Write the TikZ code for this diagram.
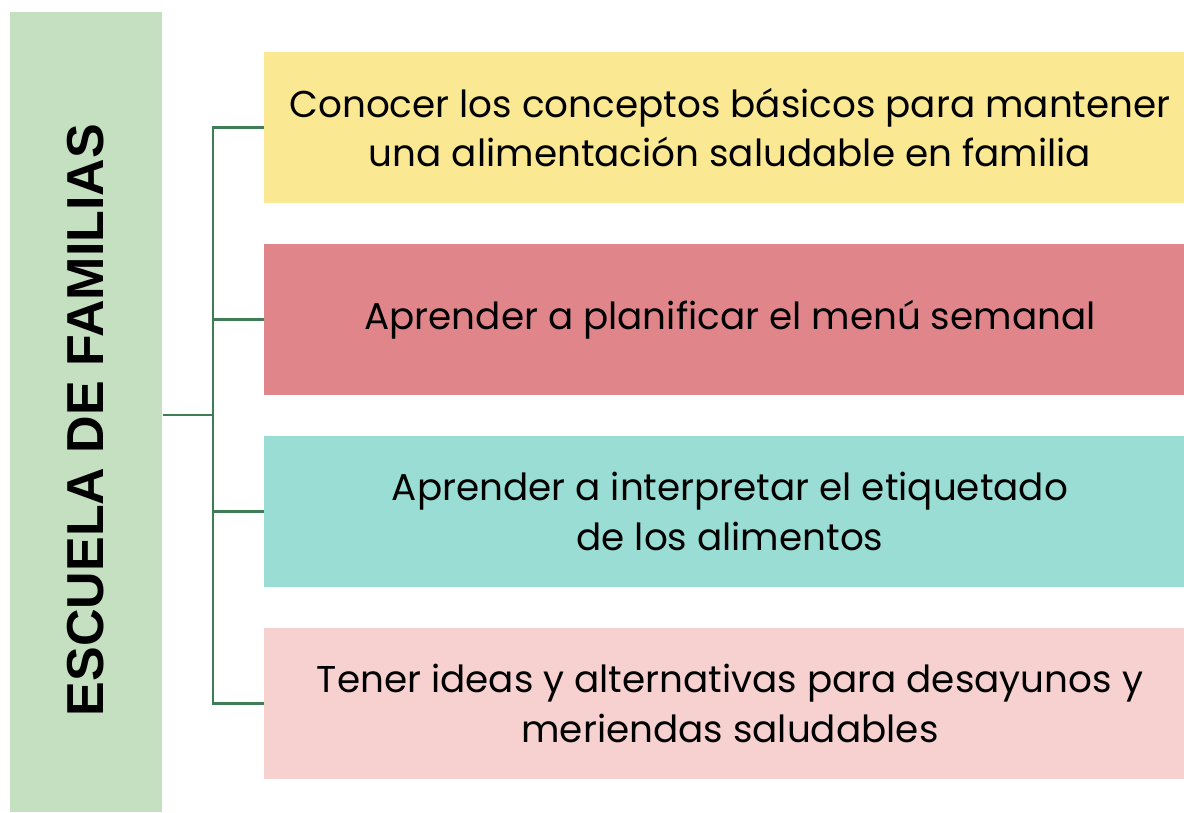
\documentclass[tikz,border=0pt]{standalone}
\usepackage{fontspec}
\setmainfont{Poppins}
\newfontfamily\titulofont{Liberation Sans}
\usetikzlibrary{positioning}

\definecolor{verdeCaja}{RGB}{197,224,193}
\definecolor{amarilloCaja}{RGB}{250,232,146}
\definecolor{rojoCaja}{RGB}{224,134,138}
\definecolor{turquesaCaja}{RGB}{153,221,213}
\definecolor{rosaCaja}{RGB}{246,209,208}
\definecolor{verdeLinea}{RGB}{62,125,86}

\tikzset{
	objetivo/.style={draw=none, minimum width=699pt, minimum height=113.25pt,
		align=center, inner sep=0pt, font=\fontsize{28}{37}\selectfont},
	conector/.style={draw=verdeLinea, line width=1.7pt}}
\tikzset{every picture/.style={line width=0.75pt}}

\begin{document}
\begin{tikzpicture}[x=0.75pt,y=0.75pt,yscale=-1,xscale=1]
	\useasboundingbox (0,0) rectangle (1184,813);

	%Shape: Rectangle [id:escuela]
	\node (escuela) [fill=verdeCaja, minimum width=114pt, minimum height=600pt, inner sep=0pt] at (86,412) {};
	% Text Node
	\node (titulo) [rotate=90, font=\titulofont\bfseries\fontsize{39}{42}\selectfont] at (86,420) {ESCUELA DE FAMILIAS};

	%Shape: Rectangle [id:obj1]
	\node (obj1) [objetivo, fill=amarilloCaja] at (730,127.5) {Conocer los conceptos básicos para mantener\\una alimentación saludable en familia};
	%Shape: Rectangle [id:obj2]
	\node (obj2) [objetivo, fill=rojoCaja] at (730,319.5) {Aprender a planificar el menú semanal};
	%Shape: Rectangle [id:obj3]
	\node (obj3) [objetivo, fill=turquesaCaja] at (730,511.5) {Aprender a interpretar el etiquetado\\de los alimentos};
	%Shape: Rectangle [id:obj4]
	\node (obj4) [objetivo, fill=rosaCaja] at (730,703.5) {Tener ideas y alternativas para desayunos y\\meriendas saludables};

	%Straight Lines [id:tronco]
	\draw [conector] (escuela.east |- 0,415) -- (213,415) coordinate (tronco);
	\draw [conector, line cap=rect] (tronco |- obj1.west) -- (tronco |- obj4.west);
	\foreach \obj in {obj1,obj2,obj3,obj4}
		\draw [conector] (tronco |- \obj.west) -- (\obj.west);

\end{tikzpicture}
\end{document}
